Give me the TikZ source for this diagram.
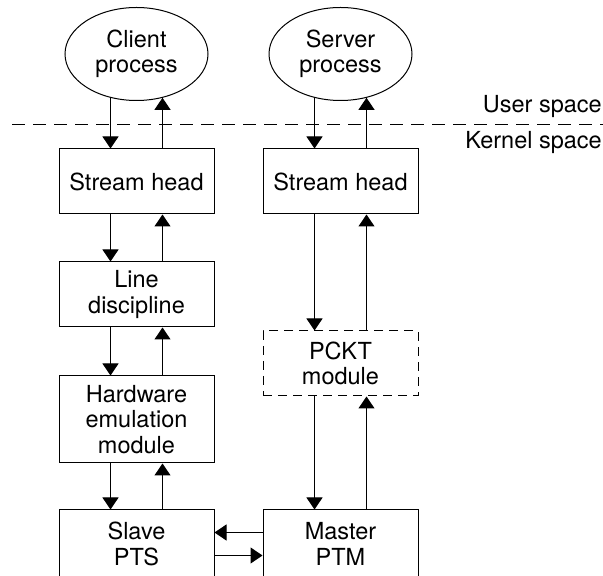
\documentclass[tikz,border=0pt]{standalone}
\usepackage{fontspec}
\setmainfont{TeX Gyre Heros}
\usepackage{tikz}
\usetikzlibrary{arrows.meta,positioning,calc,shapes.geometric}
\tikzset{
  modbox/.style={
    draw=black, line width=1pt, align=center, inner sep=2pt,
    minimum width=155pt, minimum height=65pt
  },
  dmod/.style={modbox, dash pattern=on 9pt off 6pt},
  proc/.style={
    ellipse, draw=black, line width=1pt, align=center, inner sep=0pt,
    minimum width=143pt, minimum height=93pt
  },
  arr/.style={-{Triangle[width=16pt,length=12pt]}, draw=black, line width=1pt},
  split/.style={draw=black, line width=1pt, dash pattern=on 13pt off 8pt},
  every picture/.append style={font=\fontsize{23.5}{25.5}\selectfont}
}
\begin{document}
\begin{tikzpicture}[x=1pt,y=1pt]
  \useasboundingbox (0,0) rectangle (603,576);
  \clip (0,0) rectangle (603,576);

  % User processes
  \node[proc] (client) at (136.5,522) {Client\\process};
  \node[proc] (server) at (340.5,522) {Server\\process};

  % User / kernel boundary
  \coordinate (splitL) at (12,451);
  \coordinate (splitR) at (603,451);
  \draw[split] (splitL) -- (splitR);
  \node[anchor=base east, inner sep=0pt] (uspace) at (602,463) {User space};
  \node[anchor=base east, inner sep=0pt] (kspace) at (602,427) {Kernel space};

  % Slave side
  \node[modbox] (chead) at (136.5,394.5) {Stream head};
  \node[modbox] (ldisc) at (136.5,281.5) {Line\\discipline};
  \node[modbox, minimum height=87pt] (hwemu) at (136.5,156.5) {Hardware\\emulation\\module};
  \node[modbox, minimum height=68pt] (slave) at (136.5,32) {Slave\\PTS};

  % Master side
  \node[modbox] (shead) at (340.5,394.5) {Stream head};
  \node[dmod] (pckt) at (340.5,212.5) {PCKT\\module};
  \node[modbox, minimum height=68pt] (master) at (340.5,32) {Master\\PTM};

  \draw[arr] ($(client.south)+(-26,3.2)$) -- ($(chead.north)+(-26,0)$);
  \draw[arr] ($(chead.north)+(26,0)$) -- ($(client.south)+(26,3.2)$);
  \draw[arr] ($(chead.south)+(-26,0)$) -- ($(ldisc.north)+(-26,0)$);
  \draw[arr] ($(ldisc.north)+(26,0)$) -- ($(chead.south)+(26,0)$);
  \draw[arr] ($(ldisc.south)+(-26,0)$) -- ($(hwemu.north)+(-26,0)$);
  \draw[arr] ($(hwemu.north)+(26,0)$) -- ($(ldisc.south)+(26,0)$);
  \draw[arr] ($(hwemu.south)+(-26,0)$) -- ($(slave.north)+(-26,0)$);
  \draw[arr] ($(slave.north)+(26,0)$) -- ($(hwemu.south)+(26,0)$);

  \draw[arr] ($(server.south)+(-26,3.2)$) -- ($(shead.north)+(-26,0)$);
  \draw[arr] ($(shead.north)+(26,0)$) -- ($(server.south)+(26,3.2)$);
  \draw[arr] ($(shead.south)+(-26,0)$) -- ($(pckt.north)+(-26,0)$);
  \draw[arr] ($(pckt.north)+(26,0)$) -- ($(shead.south)+(26,0)$);
  \draw[arr] ($(pckt.south)+(-26,0)$) -- ($(master.north)+(-26,0)$);
  \draw[arr] ($(master.north)+(26,0)$) -- ($(pckt.south)+(26,0)$);

  \draw[arr] ($(master.west)+(0,11.5)$) -- ($(slave.east)+(0,11.5)$);
  \draw[arr] ($(slave.east)+(0,-11.5)$) -- ($(master.west)+(0,-11.5)$);
\end{tikzpicture}
\end{document}
